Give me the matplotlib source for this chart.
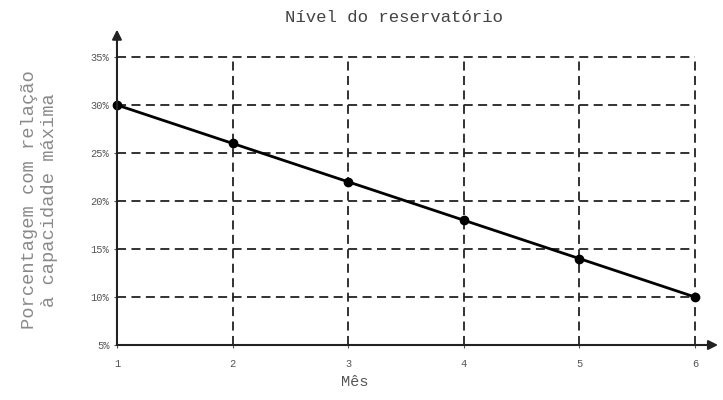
import matplotlib
matplotlib.use("Agg")
from matplotlib import pyplot as plt
from matplotlib.ticker import PercentFormatter

meses = [1, 2, 3, 4, 5, 6]
nivel = [30, 26, 22, 18, 14, 10]
y_ticks = [5, 10, 15, 20, 25, 30, 35]

plt.rcParams["font.family"] = ["Liberation Mono", "DejaVu Sans Mono"]

fig = plt.figure(figsize=(7.23, 4), dpi=100)
ax = fig.add_axes([0.1618, 0.1375, 0.7994, 0.72])

ax.plot(meses, nivel, color="black", lw=2, marker="o", ms=6, clip_on=False, zorder=3)

ax.set_xlim(1, 6)
ax.set_ylim(5, 35)
ax.set_xticks(meses)
ax.set_yticks(y_ticks)
ax.yaxis.set_major_formatter(PercentFormatter(decimals=0))
ax.tick_params(labelsize=7.5, colors="#555555", length=2)
ax.tick_params(axis="x", pad=8)

ax.grid(True, color="#222222", ls=(0, (5, 3)), lw=1.3)
for l in ax.get_xgridlines() + ax.get_ygridlines():
    l.set_clip_on(False)
for s in ["top", "right", "left", "bottom"]:
    ax.spines[s].set_visible(False)

# eixos com setas
ax.annotate("", xy=(1.04, 0), xytext=(0, 0), xycoords="axes fraction",
            arrowprops=dict(arrowstyle="-|>", color="#222222", lw=1.5,
                            mutation_scale=14, shrinkA=0, shrinkB=0))
ax.annotate("", xy=(0, 1.095), xytext=(0, 0), xycoords="axes fraction",
            arrowprops=dict(arrowstyle="-|>", color="#222222", lw=1.5,
                            mutation_scale=14, shrinkA=0, shrinkB=0))

fig.text(0.545, 0.955, "Nível do reservatório", ha="center", va="center",
         fontsize=12.5, color="#444444")
fig.text(0.49, 0.045, "Mês", ha="center", va="center", fontsize=11, color="#555555")
fig.text(0.055, 0.5, "Porcentagem com relação\nà capacidade máxima", ha="center",
         va="center", rotation=90, fontsize=13.5, color="#8a8a8a", linespacing=1.2)

fig.savefig("out.png", dpi=100)
